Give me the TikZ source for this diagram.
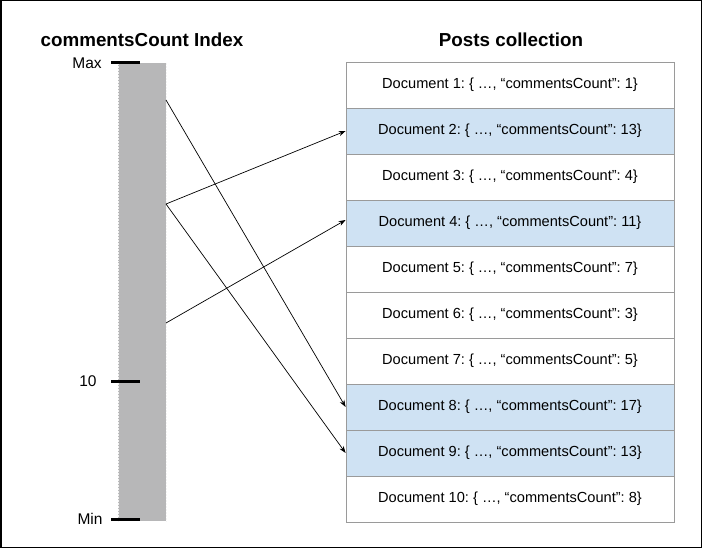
\documentclass[tikz,border=0pt]{standalone}
\usepackage{fontspec}
\setmainfont{Liberation Sans}
\usetikzlibrary{positioning, arrows.meta, calc}
\definecolor{barra}{HTML}{B7B7B8}
\definecolor{borde}{HTML}{9A9A9A}
\definecolor{azul}{HTML}{CFE2F3}

\tikzset{
  docrow/.style={draw=borde, line width=0.8pt, minimum width=328pt, minimum height=46pt,
    inner sep=0pt, font=\fontsize{14.6}{17}\selectfont},
  escala/.style={font=\fontsize{15.5}{18}\selectfont},
  titulo/.style={font=\fontsize{18.8}{22}\selectfont\bfseries},
  tick/.style={line width=3pt},
  link/.style={line width=0.7pt, -{Stealth[length=7pt, width=5pt]}},
}

\begin{document}
\frenchspacing
\begin{tikzpicture}[x=1pt, y=-1pt]
  \useasboundingbox (0,0) rectangle (702,548);
  \draw[line width=1.5pt] (0.75,0.75) rectangle (701.25,547.25);

  % titulos
  \node[titulo] (titidx) at (142,40) {commentsCount Index};
  \node[titulo] (titpost) at (511,40) {Posts collection};

  % indice
  \fill[barra] (118,63) rectangle (166,521);
  \draw[white!85!barra, densely dotted, line width=0.5pt] (118,63) -- (118,521) (166,63) -- (166,521);
  \draw[tick] (111,63) -- (140,63);
  \draw[tick] (111,381) -- (140,381);
  \draw[tick] (111,519) -- (140,519);
  \node[escala] (lmax) at (87,63) {Max};
  \node[escala] (l10) at (88,381) {10};
  \node[escala] (lmin) at (90,519) {Min};

  % coleccion
  \foreach \n/\c/\col in {1/1/white, 2/13/azul, 3/4/white, 4/11/azul, 5/7/white,
      6/3/white, 7/5/white, 8/17/azul, 9/13/azul, 10/8/white}
    \node[docrow, fill=\col] (doc\n) at (510,{39+46*\n}) {Document \n: \{ …, “commentsCount”: \c\}};

  % entradas del indice
  \coordinate (e1) at (166,100);
  \coordinate (e2) at (166,204);
  \coordinate (e3) at (166,323);

  \draw[link] (e1) -- (doc8.west);
  \draw[link] (e2) -- (doc2.west);
  \draw[link] (e2) -- (doc9.west);
  \draw[link] (e3) -- ($(doc4.west)+(0,-3)$);
\end{tikzpicture}
\end{document}
